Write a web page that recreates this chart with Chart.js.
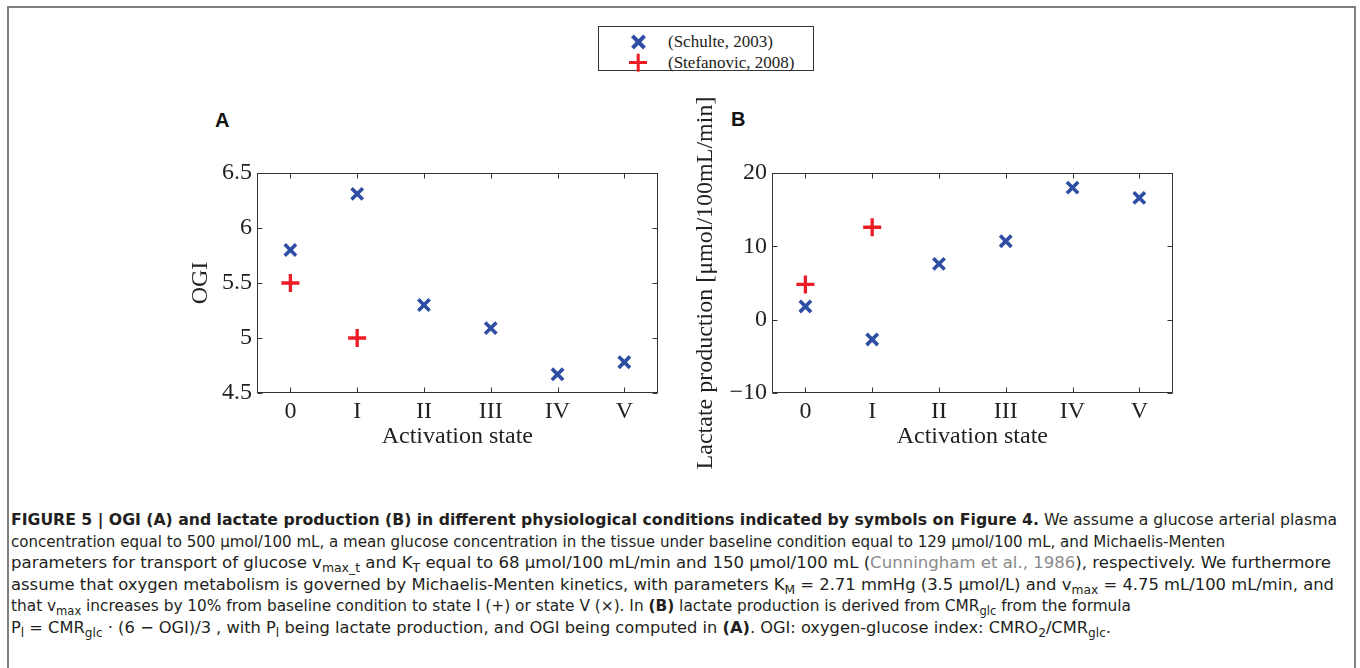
<!DOCTYPE html>
<html>
<head>
<meta charset="utf-8">
<script src="https://cdn.jsdelivr.net/npm/chart.js@4.4.0/dist/chart.umd.min.js"></script>
<style>
  html, body { margin: 0; padding: 0; background: #fff; }
  body { width: 1360px; height: 668px; position: relative; overflow: hidden; }
  #frame { position: absolute; left: 7px; top: 6px; width: 1345px; height: 700px;
           border: 2px solid #808080; border-bottom: none; }
  .chartBox { position: absolute; top: 80px; }
  .panel { position: absolute; font: bold 20px 'Liberation Sans', Arial, sans-serif; color: #111; }
  #legend { position: absolute; left: 598px; top: 26px; width: 214px; height: 43px;
            border: 1px solid #333; background: #fff; }
  .row { position: absolute; left: 0; height: 21px; width: 100%;
         font: 17px 'Liberation Serif', 'Times New Roman', serif; color: #222; line-height: 21px; }
  .row span { position: absolute; left: 69px; }
  .mk { position: absolute; left: 39px; top: 10.5px; }
  .mk i { position: absolute; display: block; background: currentColor; }
  #caption { position: absolute; left: 11px; top: 509px;
             font: 16px 'Liberation Sans Narrow', 'DejaVu Sans Condensed', sans-serif; color: #231f20; }
  .cl { height: 21.6px; line-height: 21.6px; white-space: nowrap; width: max-content;
        transform-origin: 0 50%; }
  .cl sub { font-size: 0.75em; vertical-align: -0.3em; line-height: 0; }
  .cite { color: #8a8a8a; }
</style>
</head>
<body>
<div id="frame"></div>

<div id="legend"></div>

<div class="panel" style="left:215px; top:109px;">A</div>
<div class="panel" style="left:731px; top:108px;">B</div>

<div class="chartBox" style="left:186px;"><canvas id="ogiChart" width="484" height="400"></canvas></div>
<div class="chartBox" style="left:691px;"><canvas id="lacChart" width="494" height="400"></canvas></div>

<div id="caption">
  <div class="cl" data-w="1326"><b>FIGURE 5 | OGI (A) and lactate production (B) in different physiological conditions indicated by symbols on Figure 4.</b> We assume a glucose arterial plasma</div>
  <div class="cl" data-w="1214">concentration equal to 500 μmol/100 mL, a mean glucose concentration in the tissue under baseline condition equal to 129 μmol/100 mL, and Michaelis-Menten</div>
  <div class="cl" data-w="1320">parameters for transport of glucose v<sub>max_t</sub> and K<sub>T</sub> equal to 68 μmol/100 mL/min and 150 μmol/100 mL (<span class="cite">Cunningham et al., 1986</span>), respectively. We furthermore</div>
  <div class="cl" data-w="1323">assume that oxygen metabolism is governed by Michaelis-Menten kinetics, with parameters K<sub>M</sub> = 2.71 mmHg (3.5 μmol/L) and v<sub>max</sub> = 4.75 mL/100 mL/min, and</div>
  <div class="cl" data-w="1120">that v<sub>max</sub> increases by 10% from baseline condition to state I (+) or state V (×). In <b>(B)</b> lactate production is derived from CMR<sub>glc</sub> from the formula</div>
  <div class="cl" data-w="1100">P<sub>l</sub> = CMR<sub>glc</sub> · (6 − OGI)/3 , with P<sub>l</sub> being lactate production, and OGI being computed in <b>(A)</b>. OGI: oxygen-glucose index: CMRO<sub>2</sub>/CMR<sub>glc</sub>.</div>
</div>

<script>
// activation states on the x axis
const states = ['0', 'I', 'II', 'III', 'IV', 'V'];
const seriesNames = ['(Schulte, 2003)', '(Stefanovic, 2008)'];

// panel A: oxygen-glucose index
const ogiSchulte = [5.8, 6.31, 5.3, 5.09, 4.67, 4.78];
const ogiStefanovic = [5.5, 5.0, null, null, null, null];
const ogiTicks = [4.5, 5, 5.5, 6, 6.5];

// panel B: lactate production, µmol/100mL/min
const lacSchulte = [1.8, -2.7, 7.6, 10.7, 18.0, 16.6];
const lacStefanovic = [4.8, 12.6, null, null, null, null];
const lacTicks = [-10, 0, 10, 20];

const blue = '#2d4ea2';
const red = '#ec1c24';
const ink = '#231f20';
const serif = "'Liberation Serif', 'Times New Roman', serif";

// stretch each caption line to its column width
document.querySelectorAll('.cl').forEach(line => {
  const w = line.getBoundingClientRect().width;
  line.style.transform = 'scaleX(' + (Number(line.dataset.w) / w) + ')';
});

// legend box shared by both panels
const legend = document.getElementById('legend');
seriesNames.forEach((name, i) => {
  const row = document.createElement('div');
  row.className = 'row';
  row.style.top = (4 + i * 21) + 'px';
  const mk = document.createElement('div');
  mk.className = 'mk';
  mk.style.color = i === 0 ? blue : red;
  const len = i === 0 ? 17 : 18, th = i === 0 ? 3.8 : 3.4;
  [45, -45].forEach(a => {
    const bar = document.createElement('i');
    bar.style.width = len + 'px';
    bar.style.height = th + 'px';
    bar.style.left = (-len / 2) + 'px';
    bar.style.top = (-th / 2) + 'px';
    bar.style.transform = 'rotate(' + (i === 0 ? a : a + 45) + 'deg)';
    mk.appendChild(bar);
  });
  const txt = document.createElement('span');
  txt.textContent = name;
  row.appendChild(mk);
  row.appendChild(txt);
  legend.appendChild(row);
});

// closed box with inward ticks on all four sides
const boxTicks = {
  id: 'boxTicks',
  afterDraw(chart) {
    const { ctx, chartArea: a, scales: { x, y } } = chart;
    const L = Math.round(a.left) + 0.5, R = Math.round(a.right) - 0.5;
    const T = Math.round(a.top) + 0.5, B = Math.round(a.bottom) - 0.5;
    ctx.save();
    ctx.strokeStyle = '#333';
    ctx.lineWidth = 1;
    ctx.strokeRect(L, T, R - L, B - T);
    ctx.beginPath();
    x.ticks.forEach((t, i) => {
      const px = Math.round(x.getPixelForTick(i)) + 0.5;
      ctx.moveTo(px, B); ctx.lineTo(px, B - 5);
      ctx.moveTo(px, T); ctx.lineTo(px, T + 5);
    });
    y.ticks.forEach((t, i) => {
      const py = Math.round(y.getPixelForTick(i)) + 0.5;
      ctx.moveTo(L, py); ctx.lineTo(L + 5, py);
      ctx.moveTo(R, py); ctx.lineTo(R - 5, py);
    });
    ctx.stroke();
    ctx.restore();
  }
};

function makeChart(id, schulte, stefanovic, ticks, yTitle, yWidth) {
  const tickFont = { family: serif, size: 24 };
  return new Chart(document.getElementById(id), {
    type: 'line',
    data: {
      labels: states,
      datasets: [
        {
          label: seriesNames[0],
          data: schulte,
          showLine: false,
          pointStyle: 'crossRot',
          pointRadius: 8,
          pointHoverRadius: 8,
          pointBorderWidth: 3.6,
          pointHoverBorderWidth: 3.6,
          borderColor: blue,
          backgroundColor: blue
        },
        {
          label: seriesNames[1],
          data: stefanovic,
          showLine: false,
          pointStyle: 'cross',
          pointRadius: 9,
          pointHoverRadius: 9,
          pointBorderWidth: 3.3,
          pointHoverBorderWidth: 3.3,
          borderColor: red,
          backgroundColor: red
        }
      ]
    },
    options: {
      responsive: false,
      animation: false,
      events: [],
      layout: { padding: { top: 93, right: 12, bottom: 29, left: 0 } },
      plugins: { legend: { display: false }, tooltip: { enabled: false } },
      scales: {
        x: {
          type: 'category',
          offset: true,
          grid: { display: false, drawTicks: false },
          border: { display: false },
          ticks: { color: ink, font: tickFont, padding: 4, maxRotation: 0 },
          title: { display: true, text: 'Activation state', color: ink, font: tickFont, padding: 0 },
          afterFit(s) { s.height = 58; }
        },
        y: {
          min: ticks[0],
          max: ticks[ticks.length - 1],
          afterBuildTicks(s) { s.ticks = ticks.map(v => ({ value: v })); },
          grid: { display: false, drawTicks: false },
          border: { display: false },
          ticks: {
            color: ink, font: tickFont, padding: 5,
            callback: v => String(v).replace('-', '\u2212')
          },
          title: { display: true, text: yTitle, color: ink, font: tickFont, padding: 0 },
          afterFit(s) { s.width = yWidth; }
        }
      }
    },
    plugins: [boxTicks]
  });
}

makeChart('ogiChart', ogiSchulte, ogiStefanovic, ogiTicks, 'OGI', 71);
makeChart('lacChart', lacSchulte, lacStefanovic, lacTicks, 'Lactate production [\u03bcmol/100mL/min]', 81);
</script>
</body>
</html>
